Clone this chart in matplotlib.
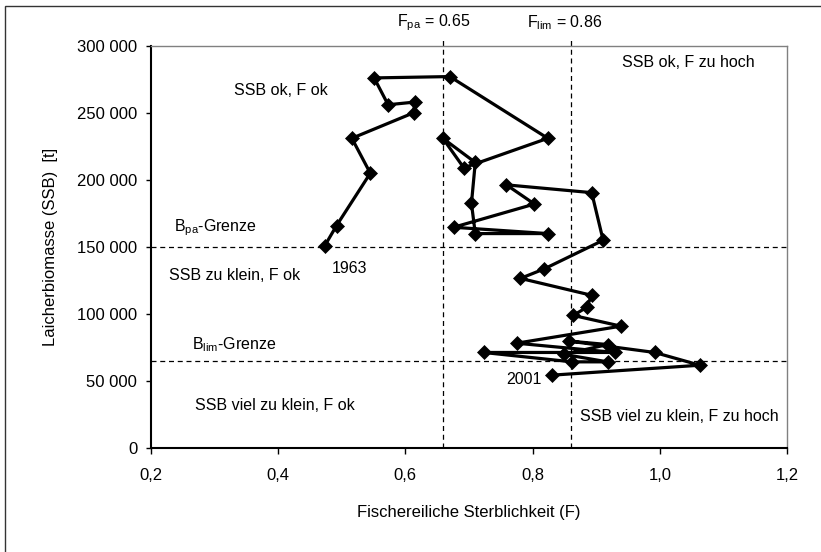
import matplotlib
matplotlib.use('Agg')
import matplotlib.pyplot as plt
import matplotlib.patches as mpatches
from matplotlib.ticker import FuncFormatter

plt.rcParams['font.family'] = ['Liberation Sans', 'DejaVu Sans']

# fishing mortality F and spawning stock biomass (t), 1963 .. 2001
f_values = [0.4735, 0.492, 0.545, 0.516, 0.613, 0.615, 0.573, 0.551, 0.670, 0.824,
            0.692, 0.659, 0.710, 0.704, 0.710, 0.824, 0.676, 0.803, 0.759, 0.893,
            0.911, 0.818, 0.781, 0.893, 0.885, 0.864, 0.939, 0.775, 0.930, 0.723,
            0.862, 0.918, 0.849, 0.918, 0.857, 0.992, 1.063, 0.831]
ssb_values = [151000, 166000, 205000, 231000, 250000, 258000, 256000, 276000, 277000, 231000,
              209000, 231000, 213000, 182500, 160000, 160000, 164700, 182000, 196300, 190500,
              155000, 133600, 126600, 114000, 105000, 99000, 91000, 78300, 71400, 71400,
              64400, 64400, 70000, 77300, 79900, 71400, 61900, 54500]
first_year = '1963'
last_year = '2001'

f_pa = 0.66
f_lim = 0.86
b_pa = 150000
b_lim = 65000

fig = plt.figure(figsize=(8.21, 5.52), dpi=100)
ax = fig.add_axes([0.1837, 0.1879, 0.7749, 0.7293])

dash = (0, (4, 3))
ax.axhline(b_pa, color='black', lw=0.9, ls=dash)
ax.axhline(b_lim, color='black', lw=0.9, ls=dash)
ax.plot([f_pa, f_pa], [0, 304500], color='black', lw=0.9, ls=dash, clip_on=False)
ax.plot([f_lim, f_lim], [0, 304500], color='black', lw=0.9, ls=dash, clip_on=False)

ax.plot(f_values, ssb_values, color='black', lw=2.3, marker='D', markersize=7,
        markeredgewidth=0.5, zorder=5)

fs = 11.5
ax.text(0.513, 134300, first_year, fontsize=fs, ha='center', va='center')
ax.text(0.786, 50900, last_year, fontsize=fs, ha='center', va='center')
ax.text(0.405, 266400, 'SSB ok, F ok', fontsize=fs, ha='center', va='center')
ax.text(1.045, 287200, 'SSB ok, F zu hoch', fontsize=fs, ha='center', va='center')
ax.text(0.301, 164200, r'$\mathregular{B_{pa}}$-Grenze', fontsize=fs, ha='center', va='center')
ax.text(0.331, 129100, 'SSB zu klein, F ok', fontsize=fs, ha='center', va='center')
ax.text(0.332, 77000, r'$\mathregular{B_{lim}}$-Grenze', fontsize=fs, ha='center', va='center')
ax.text(0.395, 31800, 'SSB viel zu klein, F ok', fontsize=fs, ha='center', va='center')
ax.text(1.031, 23700, 'SSB viel zu klein, F zu hoch', fontsize=fs, ha='center', va='center')
ax.text(0.645, 317000, r'$\mathregular{F_{pa}}$ = 0.65', fontsize=fs, ha='center', va='center', clip_on=False)
ax.text(0.851, 317000, r'$\mathregular{F_{lim}}$ = 0.86', fontsize=fs, ha='center', va='center', clip_on=False)

ax.set_xlim(0.2, 1.2)
ax.set_ylim(0, 300000)
ax.set_xticks([0.2, 0.4, 0.6, 0.8, 1.0, 1.2])
ax.set_yticks(range(0, 300001, 50000))
ax.xaxis.set_major_formatter(FuncFormatter(lambda v, p: f'{v:.1f}'.replace('.', ',')))
ax.yaxis.set_major_formatter(FuncFormatter(lambda v, p: f'{int(round(v)):,}'.replace(',', ' ')))
ax.tick_params(axis='x', direction='out', length=4.5, width=1, pad=9.5, labelsize=12)
ax.tick_params(axis='y', direction='out', length=3.8, width=1, pad=6, labelsize=12)

for side in ['left', 'bottom']:
    ax.spines[side].set_color('black')
    ax.spines[side].set_linewidth(1.5)
for side in ['top', 'right']:
    ax.spines[side].set_color('#808080')
    ax.spines[side].set_linewidth(1.0)

ax.set_xlabel('Fischereiliche Sterblichkeit (F)', fontsize=12, labelpad=16)
ax.set_ylabel('Laicherbiomasse (SSB)  [t]', fontsize=12, labelpad=14)

# outer chart frame
frame = mpatches.Rectangle((5 / 821, -0.05), 1.1, 1 - 6 / 552 + 0.05, transform=fig.transFigure,
                           fill=False, edgecolor='#333333', lw=1.0)
fig.patches.append(frame)

fig.savefig('out.png', dpi=100)
